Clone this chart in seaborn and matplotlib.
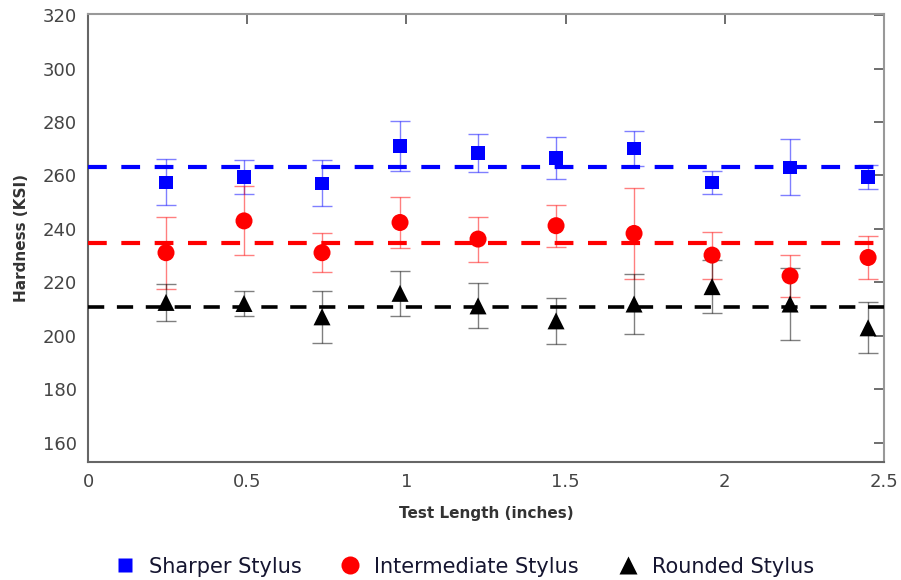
import numpy as np
import pandas as pd
import matplotlib
matplotlib.use("Agg")
import matplotlib.pyplot as plt
import seaborn as sns
from matplotlib.lines import Line2D

# Data
test_length = [0.245, 0.49, 0.735, 0.98, 1.225, 1.47, 1.715, 1.96, 2.205, 2.45]
sharper = [257.5, 259.4, 257.1, 271.0, 268.4, 266.5, 270.2, 257.5, 263.1, 259.4]
sharper_err = [8.5, 6.2, 8.5, 9.5, 7.0, 8.0, 6.5, 4.3, 10.5, 4.5]
intermediate = [231.1, 243.0, 231.1, 242.4, 236.2, 241.2, 238.3, 230.2, 222.4, 229.3]
intermediate_err = [13.5, 12.9, 7.2, 9.5, 8.4, 7.8, 17.0, 8.8, 7.7, 7.9]
rounded = [212.5, 212.1, 207.1, 215.9, 211.2, 205.6, 211.9, 218.4, 211.9, 203.0]
rounded_err = [7.0, 4.5, 9.8, 8.4, 8.4, 8.5, 11.4, 9.8, 13.5, 9.5]
means = {"Sharper Stylus": 263.2, "Intermediate Stylus": 234.8, "Rounded Stylus": 210.6}
series_names = ["Sharper Stylus", "Intermediate Stylus", "Rounded Stylus"]

colors = {"Sharper Stylus": "#0000ff", "Intermediate Stylus": "#ff0000", "Rounded Stylus": "#000000"}
markers = {"Sharper Stylus": "s", "Intermediate Stylus": "o", "Rounded Stylus": "^"}
sizes = {"Sharper Stylus": 90, "Intermediate Stylus": 150, "Rounded Stylus": 150}

sns.set_style("white")
plt.rcParams['font.family'] = ['DejaVu Sans']

df = pd.concat([
    pd.DataFrame({"x": test_length, "y": sharper, "err": sharper_err, "series": "Sharper Stylus"}),
    pd.DataFrame({"x": test_length, "y": intermediate, "err": intermediate_err, "series": "Intermediate Stylus"}),
    pd.DataFrame({"x": test_length, "y": rounded, "err": rounded_err, "series": "Rounded Stylus"}),
])

fig = plt.figure(figsize=(9.01, 5.80), dpi=100)
ax = fig.add_axes([88/901, 1-462/580, (884-88)/901, (462-14)/580])

for name in series_names:
    sub = df[df.series == name]
    ax.errorbar(sub.x, sub.y, yerr=sub.err, fmt="none", ecolor=colors[name],
                elinewidth=1.0, capsize=7, capthick=1.0, alpha=0.5, zorder=2)
    ax.axhline(means[name], color=colors[name], linestyle=(0, (4.5, 3.5)),
               linewidth=3.0 if name != "Rounded Stylus" else 2.6, zorder=3)

for name in series_names:
    sub = df[df.series == name]
    sns.scatterplot(data=sub, x="x", y="y", marker=markers[name], color=colors[name],
                    s=sizes[name], edgecolor="none", ax=ax, zorder=4, legend=False)

ax.set_xlim(0, 2.5)
ax.set_ylim(152.8, 320.4)
ax.set_xticks([0, 0.5, 1, 1.5, 2, 2.5])
ax.set_xticklabels(["0", "0.5", "1", "1.5", "2", "2.5"])
ax.set_yticks(range(160, 321, 20))
ax.tick_params(axis="both", direction="in", length=7, width=1.2, color="#555555",
               labelsize=13, labelcolor="#444444", top=True, right=True, pad=8)
for side in ["left", "bottom", "top", "right"]:
    ax.spines[side].set_color("#666666" if side in ("left", "bottom") else "#999999")
    ax.spines[side].set_linewidth(1.5)

ax.set_xlabel("Test Length (inches)", fontsize=11, fontweight="bold", color="#333333", labelpad=11)
ax.set_ylabel("Hardness (KSI)", fontsize=11, fontweight="bold", color="#333333", labelpad=9.5)

handles = [Line2D([0], [0], marker=markers[n], color="none", markerfacecolor=colors[n],
                  markeredgecolor="none", markersize=(10 if n == "Sharper Stylus" else 13),
                  linestyle="none") for n in series_names]
fig.legend(handles, series_names, loc="center", bbox_to_anchor=(0.514, 0.023), ncol=3,
           frameon=False, prop={"size": 15},
           columnspacing=1.75, handletextpad=0.55, handlelength=1.2, labelcolor="#151530")

fig.savefig("out.png", dpi=100)
